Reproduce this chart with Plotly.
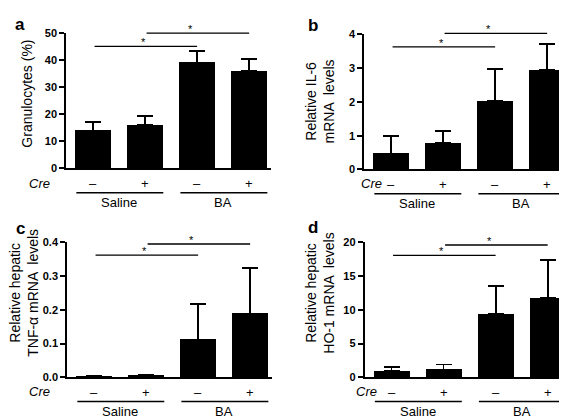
import plotly.graph_objects as go

W, H = 567, 418

# ---------------- data ----------------
cre_labels = ["–", "+", "–", "+"]
group_names = ["Saline", "BA"]
group_members = [(0, 1), (2, 3)]

gran_mean = [14.0, 16.0, 39.2, 36.0]
gran_err = [3.2, 3.4, 4.2, 4.4]
il6_mean = [0.47, 0.78, 2.02, 2.94]
il6_err = [0.51, 0.36, 0.96, 0.77]
tnf_mean = [0.003, 0.005, 0.112, 0.189]
tnf_err = [0.001, 0.002, 0.104, 0.135]
ho1_mean = [0.95, 1.15, 9.33, 11.73]
ho1_err = [0.62, 0.73, 4.17, 5.63]

gran_sig = [45.2, 50.1]
il6_sig = [3.63, 4.03]
tnf_sig = [0.362, 0.395]
ho1_sig = [18.05, 19.6]
sig_pairs = [(0, 2), (1, 3)]
star_x = [0.96, 1.88]

gran_ticks = [0, 10, 20, 30, 40, 50]
il6_ticks = [0, 1, 2, 3, 4]
tnf_ticks = [0, 0.1, 0.2, 0.3, 0.4]
tnf_ticktext = ["0.0", "0.1", "0.2", "0.3", "0.4"]
ho1_ticks = [0, 5, 10, 15, 20]

# ---------------- layout helpers ----------------
FONT = "Liberation Sans, Arial, sans-serif"
BAR_W = 0.70
XR = [-0.52, 3.42]

panels = [
    dict(letter="a", mean=gran_mean, err=gran_err, sig=gran_sig, ticks=gran_ticks, ticktext=None,
         yr=[0, 50], xpx=(58, 263), ypx=(20, 159),
         title="Granulocytes (%)", tpos=(19, 82), lpos=(11.5, 10.5), cpos=(31, 174)),
    dict(letter="b", mean=il6_mean, err=il6_err, sig=il6_sig, ticks=il6_ticks, ticktext=None,
         yr=[0, 4], xpx=(356, 561), ypx=(21, 160),
         title="Relative IL-6<br>mRNA  levels", tpos=(312, 90), lpos=(305, 12), cpos=(363, 175)),
    dict(letter="c", mean=tnf_mean, err=tnf_err, sig=tnf_sig, ticks=tnf_ticks, ticktext=tnf_ticktext,
         yr=[0, 0.4], xpx=(59, 264), ypx=(235, 374),
         title="Relative hepatic<br>TNF-α mRNA  levels", tpos=(16, 287), lpos=(12.5, 221), cpos=(31, 389)),
    dict(letter="d", mean=ho1_mean, err=ho1_err, sig=ho1_sig, ticks=ho1_ticks, ticktext=None,
         yr=[0, 20], xpx=(356.5, 561.5), ypx=(235, 374),
         title="Relative hepatic<br>HO-1 mRNA  levels", tpos=(312, 288), lpos=(305, 220), cpos=(358, 389)),
]

def px_x(p):
    return p / W

def px_y(p):
    return 1 - p / H

fig = go.Figure()
annotations = []
layout_axes = {}

for i, p in enumerate(panels):
    n = "" if i == 0 else str(i + 1)
    xa, ya = "x" + n, "y" + n
    xs = list(range(len(p["mean"])))
    fig.add_trace(go.Bar(
        x=xs, y=p["mean"], xaxis=xa, yaxis=ya, width=BAR_W,
        marker=dict(color="black", line=dict(width=0)),
        error_y=dict(type="data", array=p["err"], arrayminus=[0] * len(xs), symmetric=False,
                     color="black", thickness=1.8, width=8),
        showlegend=False, hoverinfo="skip",
    ))
    layout_axes["xaxis" + n] = dict(
        domain=[px_x(p["xpx"][0]), px_x(p["xpx"][1])], range=XR, anchor=ya,
        showline=True, linecolor="black", linewidth=1.5, ticks="", showticklabels=False,
        showgrid=False, zeroline=False, fixedrange=True,
    )
    ydict = dict(
        domain=[px_y(p["ypx"][1]), px_y(p["ypx"][0])], range=p["yr"], anchor=xa,
        showline=True, linecolor="black", linewidth=1.5, ticks="outside", ticklen=5,
        tickwidth=1.5, tickcolor="black", tickvals=p["ticks"],
        tickfont=dict(family=FONT, size=11, color="black", weight="bold"),
        showgrid=False, zeroline=False, fixedrange=True,
    )
    if p["ticktext"]:
        ydict["ticktext"] = p["ticktext"]
    layout_axes["yaxis" + n] = ydict

    # significance lines and stars (positioned in the y-domain so lines above the top tick still show)
    y0, y1 = p["yr"]
    for (a, b), lvl, sx in zip(sig_pairs, p["sig"], star_x):
        yd = (lvl - y0) / (y1 - y0)
        annotations.append(dict(
            xref=xa, yref=ya + " domain", axref=xa, ayref="pixel", x=xs[b], y=yd, ax=xs[a], ay=0,
            text="", showarrow=True, arrowhead=0, arrowwidth=1.4, arrowcolor="black",
            standoff=0, startstandoff=0,
        ))
        annotations.append(dict(
            xref=xa, yref=ya + " domain", x=sx, y=yd, text="*", showarrow=False, yanchor="bottom",
            yshift=-4, font=dict(family=FONT, size=11, color="black"),
        ))

    base = p["ypx"][1]
    # Cre +/- labels
    for xi, lab in zip(xs, cre_labels):
        annotations.append(dict(
            xref=xa, yref="paper", x=xi, y=px_y(base + 15.5), text=lab, showarrow=False,
            yanchor="middle", font=dict(family=FONT, size=13, color="black"),
        ))
    # group underlines and labels
    for gname, (g0, g1) in zip(group_names, group_members):
        annotations.append(dict(
            xref=xa, yref="paper", axref=xa, ayref="pixel", x=xs[g1] + BAR_W / 2,
            y=px_y(base + 25), ax=xs[g0] - BAR_W / 2, ay=0,
            text="", showarrow=True, arrowhead=0, arrowwidth=1.6, arrowcolor="black",
            standoff=0, startstandoff=0,
        ))
        annotations.append(dict(
            xref=xa, yref="paper", x=(xs[g0] + xs[g1]) / 2, y=px_y(base + 35.5), text=gname,
            showarrow=False, yanchor="middle", font=dict(family=FONT, size=13, color="black"),
        ))
    # Cre label
    annotations.append(dict(
        xref="paper", yref="paper", x=px_x(p["cpos"][0]), y=px_y(p["cpos"][1]),
        text="<i>Cre</i>", showarrow=False, xanchor="center", yanchor="middle",
        font=dict(family=FONT, size=13, color="black"),
    ))
    # y axis title
    annotations.append(dict(
        xref="paper", yref="paper", x=px_x(p["tpos"][0]), y=px_y(p["tpos"][1]),
        text=p["title"], showarrow=False, textangle=-90, xanchor="center", yanchor="middle",
        font=dict(family=FONT, size=14, color="black"),
    ))
    # panel letter
    annotations.append(dict(
        xref="paper", yref="paper", x=px_x(p["lpos"][0]), y=px_y(p["lpos"][1]),
        text="<b>" + p["letter"] + "</b>", showarrow=False, xanchor="center", yanchor="middle",
        font=dict(family=FONT, size=17, color="black"),
    ))

fig.update_layout(
    width=W, height=H, margin=dict(l=0, r=0, t=0, b=0),
    paper_bgcolor="white", plot_bgcolor="white",
    annotations=annotations, bargap=0, **layout_axes,
)

fig.write_html("out.html")
